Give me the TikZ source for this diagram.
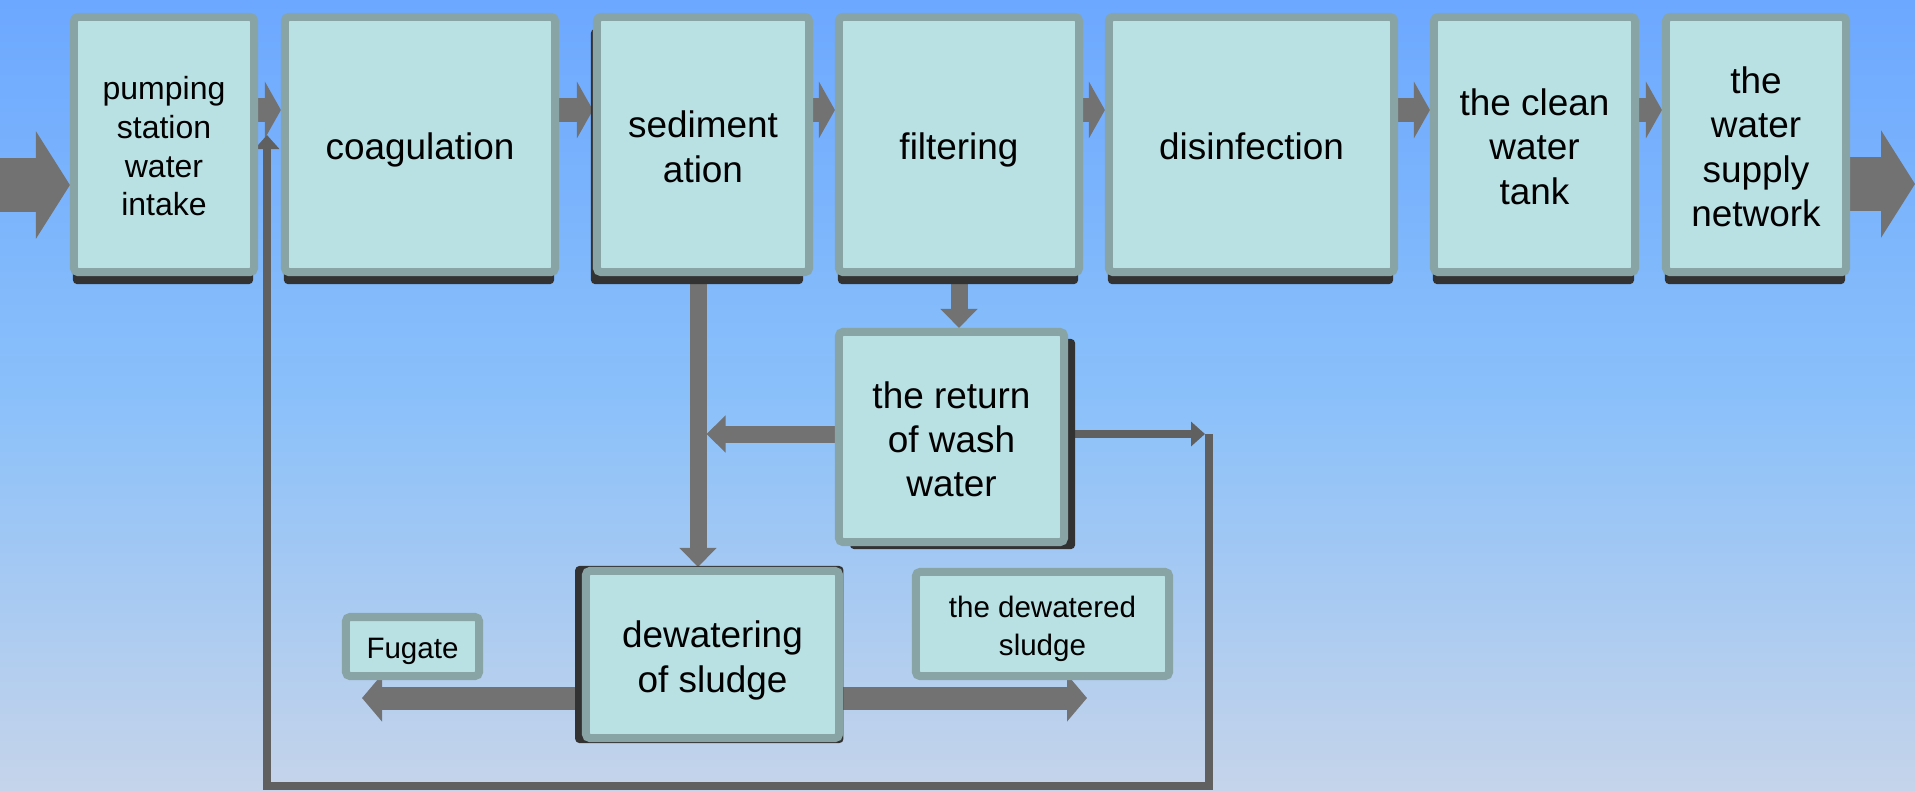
\documentclass[tikz,border=0pt]{standalone}
\usepackage{fontspec}
\setmainfont{Liberation Sans}
\usepackage{tikz}
\usetikzlibrary{arrows.meta,shadows}
\pgfdeclarelayer{bglayer}
\pgfdeclarelayer{edgelayer}
\pgfdeclarelayer{nodelayer}
\pgfsetlayers{bglayer,edgelayer,nodelayer,main}
\definecolor{skytop}{RGB}{108,168,255}
\definecolor{skymid}{RGB}{138,192,250}
\definecolor{skybottom}{RGB}{197,212,234}
\definecolor{boxfill}{RGB}{185,224,227}
\definecolor{boxrim}{RGB}{137,164,165}
\definecolor{boxshade}{RGB}{50,50,50}
\definecolor{pipegray}{RGB}{114,114,114}
\definecolor{linegray}{RGB}{96,96,96}
\tikzstyle{stage}=[rectangle,rounded corners=0.04cm,fill=boxfill,draw=boxrim,line width=0.08cm,align=center,inner sep=0pt,font=\fontsize{10.5}{12.6}\selectfont,text depth=0.078cm]
\tikzstyle{note}=[stage,font=\fontsize{8.4}{10.8}\selectfont,text depth=0.063cm]
\tikzstyle{rowshade}=[drop shadow={shadow xshift=-0.01cm,shadow yshift=-0.12cm,fill=boxshade,opacity=1}]
\tikzstyle{flow}=[draw=pipegray,line width=0.24cm,-{Triangle[width=0.56cm,length=0.16cm]}]
\tikzstyle{bigflow}=[draw=pipegray,line width=0.53cm,-{Triangle[width=1.06cm,length=0.34cm]}]
\tikzstyle{drop}=[draw=pipegray,line width=0.17cm,-{Triangle[width=0.36cm,length=0.19cm]}]
\tikzstyle{sideflow}=[draw=pipegray,line width=0.23cm,-{Triangle[width=0.46cm,length=0.2cm]}]
\tikzstyle{wire}=[draw=linegray,line width=0.08cm,line join=miter,-{Triangle[width=0.24cm,length=0.14cm]}]

\begin{document}
\begin{tikzpicture}[x=0.01cm,y=-0.01cm]
	\begin{pgfonlayer}{bglayer}
		\shade [top color=skytop,bottom color=skybottom,middle color=skymid] (0,0) rectangle (1915,790);
	\end{pgfonlayer}
	\useasboundingbox (0,0) rectangle (1915,790);
	\begin{pgfonlayer}{nodelayer}
		\node [style=stage,style=rowshade,minimum width=1.8cm,minimum height=2.55cm,font=\fontsize{9.1}{11}\selectfont,text height=1.495cm,text depth=0.068cm] (0) at (164,144.5) {pumping\\station\\water\\intake};
		\node [style=stage,style=rowshade,minimum width=2.7cm,minimum height=2.55cm,text height=0.387cm] (1) at (420,144.5) {coagulation};
		\node [style=stage,drop shadow={shadow xshift=-0.06cm,shadow yshift=-0.12cm,fill=boxshade,opacity=1},minimum width=2.12cm,minimum height=2.55cm,text height=0.83cm] (2) at (703,144.5) {sediment\\ation};
		\node [style=stage,style=rowshade,minimum width=2.4cm,minimum height=2.55cm,text height=0.387cm] (3) at (959,144.5) {filtering};
		\node [style=stage,style=rowshade,minimum width=2.85cm,minimum height=2.55cm,text height=0.387cm] (4) at (1251.5,144.5) {disinfection};
		\node [style=stage,style=rowshade,minimum width=2.01cm,minimum height=2.55cm,text height=1.273cm] (5) at (1534.5,144.5) {the clean\\water\\tank};
		\node [style=stage,style=rowshade,minimum width=1.8cm,minimum height=2.55cm,text height=1.716cm] (6) at (1756,144.5) {the\\water\\supply\\network};
		\node [style=stage,drop shadow={shadow xshift=0.11cm,shadow yshift=-0.07cm,fill=boxshade,opacity=1},minimum width=2.25cm,minimum height=2.1cm,text height=1.273cm] (7) at (951.5,437) {the return\\of wash\\water};
		\node [style=stage,drop shadow={shadow xshift=-0.03cm,shadow yshift=0cm,shadow scale=1.06,fill=boxshade,opacity=1},minimum width=2.53cm,minimum height=1.67cm,text height=0.83cm] (8) at (712.5,654.5) {dewatering\\of sludge};
		\node [style=note,minimum width=1.33cm,minimum height=0.59cm,text height=0.308cm] (9) at (412.5,646.5) {Fugate};
		\node [style=note,minimum width=2.53cm,minimum height=1.04cm,text height=0.688cm] (10) at (1042.5,624) {the dewatered\\sludge};
	\end{pgfonlayer}
	\coordinate (row) at (0,110);
	\coordinate (in) at (0,185);
	\coordinate (out) at (1915,184);
	\coordinate (sx) at (698,0);
	\coordinate (back) at (0,434);
	\coordinate (c1) at (1209,434);
	\coordinate (c2) at (1209,786);
	\coordinate (c3) at (267,786);
	\coordinate (c4) at (267,135);
	\coordinate (fl) at (362,698);
	\coordinate (fr) at (1087,698);
	\begin{pgfonlayer}{edgelayer}
		\draw [style=bigflow] (in) -- (in -| 0.west);
		\draw [style=flow] (0.east |- row) -- (1.west |- row);
		\draw [style=flow] (1.east |- row) -- (2.west |- row);
		\draw [style=flow] (2.east |- row) -- (3.west |- row);
		\draw [style=flow] (3.east |- row) -- (4.west |- row);
		\draw [style=flow] (4.east |- row) -- (5.west |- row);
		\draw [style=flow] (5.east |- row) -- (6.west |- row);
		\draw [style=bigflow] (6.east |- out) -- (out);
		\draw [style=drop] (2.south -| sx) -- (8.north -| sx);
		\draw [style=drop] (3.south) -- (3.south |- 7.north);
		\draw [style=drop] (7.west |- back) -- ([xshift=0.085cm]sx |- back);
		\draw [style=wire] (7.east |- back) -- ([xshift=-0.04cm]c1);
		\draw [style=wire] (c1) -- (c2) -- (c3) -- (c4);
		\draw [style=sideflow] (8.west |- fl) -- (fl);
		\draw [style=sideflow] (8.east |- fr) -- (fr);
	\end{pgfonlayer}
\end{tikzpicture}
\end{document}
